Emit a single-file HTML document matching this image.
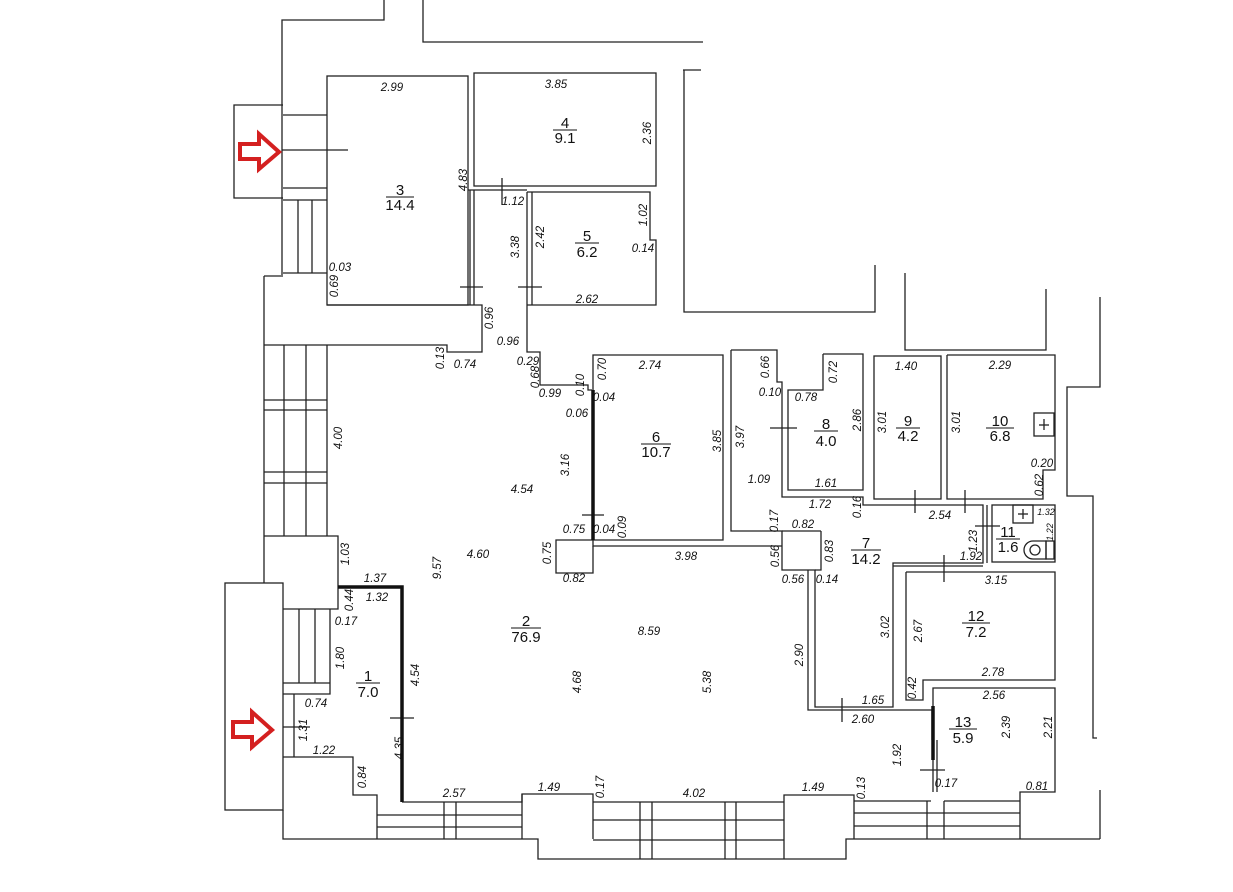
<!DOCTYPE html>
<html><head><meta charset="utf-8"><style>
html,body{margin:0;padding:0;background:#fff;}
svg{display:block;}
.l{fill:none;stroke:#222;stroke-width:1.3;}
.t{stroke:#111;stroke-width:3.5;fill:none;}
text{font-family:"Liberation Sans",sans-serif;fill:#111;}
.d{font-size:11.5px;font-style:italic;text-anchor:middle;}
.r{font-size:15px;text-anchor:middle;}
</style></head><body>
<svg width="1233" height="892" viewBox="0 0 1233 892" xmlns="http://www.w3.org/2000/svg">
<g class="l">
<polyline points="384,0 384,20 282,20 282,275"/>
<polyline points="423,0 423,42 703,42"/>
<polyline points="683,70 701,70"/>
<polyline points="684,70 684,312 875,312 875,265"/>
<polyline points="905,273 905,350 1046,350 1046,289"/>
<polyline points="1100,297 1100,387 1067,387 1067,496 1093,496 1093,738 1097,738"/>
<polyline points="1100,790 1100,839"/>
<polyline points="283,105 234,105 234,198 283,198"/>
<line x1="283" y1="115" x2="327" y2="115"/>
<line x1="283" y1="188" x2="327" y2="188"/>
<line x1="283" y1="200" x2="327" y2="200"/>
<line x1="298" y1="200" x2="298" y2="273"/>
<line x1="312" y1="200" x2="312" y2="273"/>
<line x1="282" y1="150" x2="348" y2="150"/>
<line x1="283" y1="273" x2="327" y2="273"/>
<rect x="327" y="76" width="141" height="229"/>
<polyline points="264,276 283,276"/>
<polyline points="327,305 482,305 482,352 447,352 447,345 264,345"/>
<line x1="264" y1="276" x2="264" y2="583"/>
<rect x="474" y="73" width="182" height="113"/>
<line x1="468" y1="190" x2="527" y2="190"/>
<line x1="502" y1="178" x2="502" y2="205"/>
<line x1="470" y1="190" x2="470" y2="305"/>
<line x1="474" y1="190" x2="474" y2="305"/>
<line x1="460" y1="287" x2="483" y2="287"/>
<line x1="518" y1="287" x2="542" y2="287"/>
<polyline points="527,192 650,192 650,240 656,240 656,305 527,305"/>
<line x1="527" y1="192" x2="527" y2="305"/>
<line x1="532" y1="192" x2="532" y2="305"/>
<polyline points="527,305 527,352 540,352 540,385 588,385 588,390 592,390"/>
<line x1="284" y1="345" x2="284" y2="536"/>
<line x1="306" y1="345" x2="306" y2="536"/>
<line x1="327" y1="345" x2="327" y2="536"/>
<line x1="264" y1="400" x2="327" y2="400"/>
<line x1="264" y1="410" x2="327" y2="410"/>
<line x1="264" y1="472" x2="327" y2="472"/>
<line x1="264" y1="483" x2="327" y2="483"/>
<polyline points="264,536 338,536 338,609 283,609"/>
<rect x="225" y="583" width="58" height="227"/>
<line x1="299" y1="609" x2="299" y2="683"/>
<line x1="315" y1="609" x2="315" y2="683"/>
<polyline points="330,609 330,694 283,694"/>
<line x1="283" y1="683" x2="330" y2="683"/>
<line x1="294" y1="694" x2="294" y2="757"/>
<line x1="283" y1="727" x2="310" y2="727"/>
<polyline points="283,757 353,757 353,795 377,795 377,839"/>
<polyline points="283,810 283,839 538,839 538,859 846,859 846,839 1100,839"/>
<line x1="390" y1="718" x2="414" y2="718"/>
<polyline points="593,390 593,355 723,355 723,540 593,540"/>
<polyline points="593,540 593,546 782,546"/>
<line x1="582" y1="515" x2="604" y2="515"/>
<polyline points="593,540 556,540 556,573 593,573 593,546"/>
<polyline points="402,802 522,802 522,794 593,794 593,839"/>
<line x1="522" y1="794" x2="522" y2="839"/>
<line x1="377" y1="815" x2="522" y2="815"/>
<line x1="377" y1="827" x2="522" y2="827"/>
<line x1="444" y1="802" x2="444" y2="839"/>
<line x1="456" y1="802" x2="456" y2="839"/>
<line x1="593" y1="802" x2="784" y2="802"/>
<line x1="593" y1="820" x2="784" y2="820"/>
<line x1="593" y1="840" x2="784" y2="840"/>
<line x1="640" y1="802" x2="640" y2="859"/>
<line x1="652" y1="802" x2="652" y2="859"/>
<line x1="725" y1="802" x2="725" y2="859"/>
<line x1="736" y1="802" x2="736" y2="859"/>
<polyline points="784,859 784,795 854,795 854,839"/>
<line x1="854" y1="801" x2="931" y2="801"/>
<line x1="854" y1="813" x2="1020" y2="813"/>
<line x1="854" y1="826" x2="1020" y2="826"/>
<line x1="927" y1="801" x2="927" y2="839"/>
<line x1="944" y1="801" x2="944" y2="839"/>
<line x1="944" y1="801" x2="1020" y2="801"/>
<polyline points="1020,839 1020,792 1055,792 1055,688 933,688 933,792"/>
<line x1="937" y1="740" x2="937" y2="792"/>
<line x1="920" y1="770" x2="945" y2="770"/>
<polyline points="731,350 777,350 777,382 782,382 782,497 863,497 863,505 983,505 983,563 893,563 893,707 815,707 815,570 782,570 782,531 731,531 731,350"/>
<line x1="782" y1="531" x2="821" y2="531"/>
<polyline points="821,531 821,570 815,570"/>
<polyline points="808,570 808,710 932,710 932,740"/>
<line x1="770" y1="428" x2="797" y2="428"/>
<polyline points="823,354 863,354 863,490 788,490 788,390 823,390 823,354"/>
<rect x="874" y="356" width="67" height="143"/>
<line x1="915" y1="490" x2="915" y2="513"/>
<polyline points="947,355 1055,355 1055,470 1043,470 1043,499 947,499 947,355"/>
<line x1="965" y1="490" x2="965" y2="513"/>
<rect x="1034" y="413" width="20" height="23"/>
<line x1="1044" y1="419" x2="1044" y2="430"/><line x1="1039" y1="425" x2="1049" y2="425"/>
<rect x="992" y="505" width="63" height="57"/>
<line x1="987" y1="505" x2="987" y2="563"/>
<line x1="975" y1="526" x2="1000" y2="526"/>
<rect x="1013" y="505" width="20" height="18"/>
<line x1="1023" y1="509" x2="1023" y2="519"/><line x1="1018" y1="514" x2="1028" y2="514"/>
<path d="M1046,541 L1033,541 A9,9 0 0 0 1033,559 L1046,559 Z"/>
<circle cx="1035" cy="550" r="5"/>
<rect x="1046" y="541" width="8" height="18"/>
<polyline points="906,572 1055,572 1055,680 923,680 923,700 906,700 906,572"/>
<line x1="893" y1="566" x2="983" y2="566"/>
<line x1="944" y1="555" x2="944" y2="582"/>
<line x1="842" y1="698" x2="842" y2="722"/>
</g>
<g class="t">
<polyline points="338,587 402,587 402,802"/>
<line x1="593" y1="390" x2="593" y2="540"/>
<line x1="933" y1="706" x2="933" y2="760"/>
</g>
<g fill="#fff" stroke="#d42020" stroke-width="4">
<polygon points="240,144 259,144 259,134 279,152 259,169 259,159 240,159"/>
<polygon points="233,722 252,722 252,712 272,730 252,747 252,737 233,737"/>
</g>
<g class="r">
<text x="400" y="195">3</text><text x="400" y="210">14.4</text>
<text x="565" y="128">4</text><text x="565" y="143">9.1</text>
<text x="587" y="241">5</text><text x="587" y="257">6.2</text>
<text x="656" y="442">6</text><text x="656" y="457">10.7</text>
<text x="826" y="429">8</text><text x="826" y="446">4.0</text>
<text x="908" y="426">9</text><text x="908" y="441">4.2</text>
<text x="1000" y="426">10</text><text x="1000" y="441">6.8</text>
<text x="1008" y="537">11</text><text x="1008" y="552">1.6</text>
<text x="866" y="548">7</text><text x="866" y="564">14.2</text>
<text x="976" y="621">12</text><text x="976" y="637">7.2</text>
<text x="963" y="727">13</text><text x="963" y="743">5.9</text>
<text x="526" y="626">2</text><text x="526" y="642">76.9</text>
<text x="368" y="681">1</text><text x="368" y="697">7.0</text>
</g>
<g stroke="#111" stroke-width="1">
<line x1="386" y1="197" x2="414" y2="197"/><line x1="553" y1="130" x2="577" y2="130"/>
<line x1="575" y1="243" x2="599" y2="243"/><line x1="641" y1="444" x2="671" y2="444"/>
<line x1="814" y1="431" x2="838" y2="431"/><line x1="896" y1="428" x2="920" y2="428"/>
<line x1="986" y1="428" x2="1014" y2="428"/><line x1="996" y1="539" x2="1020" y2="539"/>
<line x1="851" y1="550" x2="881" y2="550"/><line x1="962" y1="623" x2="990" y2="623"/>
<line x1="949" y1="729" x2="977" y2="729"/><line x1="511" y1="628" x2="541" y2="628"/>
<line x1="356" y1="683" x2="380" y2="683"/>
</g>
<g class="d">
<text x="392" y="91">2.99</text><text x="556" y="88">3.85</text><text x="513" y="205">1.12</text>
<text x="587" y="303">2.62</text><text x="340" y="271">0.03</text><text x="465" y="368">0.74</text>
<text x="508" y="345">0.96</text><text x="550" y="397">0.99</text><text x="528" y="365">0.29</text>
<text x="650" y="369">2.74</text><text x="604" y="401">0.04</text><text x="577" y="417">0.06</text>
<text x="574" y="533">0.75</text><text x="604" y="533">0.04</text><text x="574" y="582">0.82</text>
<text x="686" y="560">3.98</text><text x="522" y="493">4.54</text><text x="478" y="558">4.60</text>
<text x="375" y="582">1.37</text><text x="377" y="601">1.32</text><text x="346" y="625">0.17</text>
<text x="316" y="707">0.74</text><text x="324" y="754">1.22</text><text x="454" y="797">2.57</text>
<text x="549" y="791">1.49</text><text x="694" y="797">4.02</text><text x="813" y="791">1.49</text>
<text x="649" y="635">8.59</text><text x="643" y="252">0.14</text>
<text x="806" y="401">0.78</text><text x="770" y="396">0.10</text><text x="759" y="483">1.09</text>
<text x="826" y="487">1.61</text><text x="820" y="508">1.72</text><text x="940" y="519">2.54</text>
<text x="906" y="370">1.40</text><text x="1000" y="369">2.29</text><text x="1042" y="467">0.20</text>
<text x="1046" y="515" style="font-size:9px">1.32</text><text x="803" y="528">0.82</text>
<text x="793" y="583">0.56</text><text x="827" y="583">0.14</text><text x="971" y="560">1.92</text>
<text x="996" y="584">3.15</text><text x="993" y="676">2.78</text><text x="994" y="699">2.56</text>
<text x="873" y="704">1.65</text><text x="863" y="723">2.60</text><text x="946" y="787">0.17</text>
<text x="1037" y="790">0.81</text>
</g>
<g class="d">
<text transform="translate(651,133) rotate(-90)">2.36</text>
<text transform="translate(467,180) rotate(-90)">4.83</text>
<text transform="translate(519,247) rotate(-90)">3.38</text>
<text transform="translate(544,237) rotate(-90)">2.42</text>
<text transform="translate(647,215) rotate(-90)">1.02</text>
<text transform="translate(338,286) rotate(-90)">0.69</text>
<text transform="translate(493,318) rotate(-90)">0.96</text>
<text transform="translate(444,358) rotate(-90)">0.13</text>
<text transform="translate(539,377) rotate(-90)">0.68</text>
<text transform="translate(584,385) rotate(-90)">0.10</text>
<text transform="translate(606,369) rotate(-90)">0.70</text>
<text transform="translate(569,465) rotate(-90)">3.16</text>
<text transform="translate(721,441) rotate(-90)">3.85</text>
<text transform="translate(626,527) rotate(-90)">0.09</text>
<text transform="translate(551,553) rotate(-90)">0.75</text>
<text transform="translate(342,438) rotate(-90)">4.00</text>
<text transform="translate(441,568) rotate(-90)">9.57</text>
<text transform="translate(349,554) rotate(-90)">1.03</text>
<text transform="translate(353,600) rotate(-90)">0.44</text>
<text transform="translate(344,658) rotate(-90)">1.80</text>
<text transform="translate(419,675) rotate(-90)">4.54</text>
<text transform="translate(307,730) rotate(-90)">1.31</text>
<text transform="translate(366,777) rotate(-90)">0.84</text>
<text transform="translate(403,748) rotate(-90)">4.35</text>
<text transform="translate(604,787) rotate(-90)">0.17</text>
<text transform="translate(581,682) rotate(-90)">4.68</text>
<text transform="translate(711,682) rotate(-90)">5.38</text>
<text transform="translate(769,367) rotate(-90)">0.66</text>
<text transform="translate(837,372) rotate(-90)">0.72</text>
<text transform="translate(744,437) rotate(-90)">3.97</text>
<text transform="translate(861,420) rotate(-90)">2.86</text>
<text transform="translate(886,422) rotate(-90)">3.01</text>
<text transform="translate(960,422) rotate(-90)">3.01</text>
<text transform="translate(1043,485) rotate(-90)">0.62</text>
<text transform="translate(861,507) rotate(-90)">0.16</text>
<text transform="translate(778,521) rotate(-90)">0.17</text>
<text transform="translate(833,551) rotate(-90)">0.83</text>
<text transform="translate(779,556) rotate(-90)">0.56</text>
<text transform="translate(977,541) rotate(-90)">1.23</text>
<text transform="translate(1053,532) rotate(-90)" style="font-size:9px">1.22</text>
<text transform="translate(889,627) rotate(-90)">3.02</text>
<text transform="translate(803,655) rotate(-90)">2.90</text>
<text transform="translate(922,631) rotate(-90)">2.67</text>
<text transform="translate(916,688) rotate(-90)">0.42</text>
<text transform="translate(1010,727) rotate(-90)">2.39</text>
<text transform="translate(1052,727) rotate(-90)">2.21</text>
<text transform="translate(901,755) rotate(-90)">1.92</text>
<text transform="translate(865,788) rotate(-90)">0.13</text>
</g>
</svg>
</body></html>
